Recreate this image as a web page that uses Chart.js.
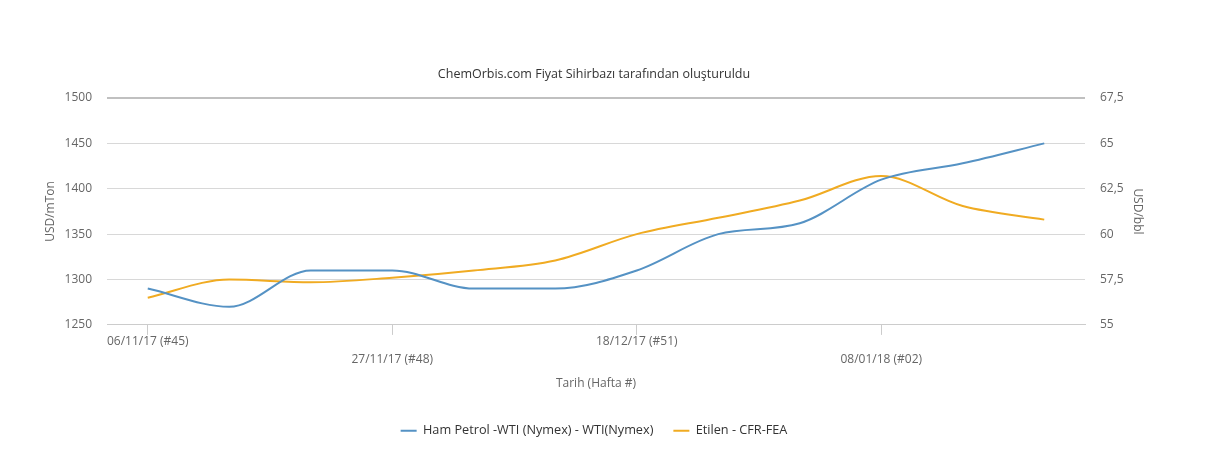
<!DOCTYPE html>
<html>
<head>
<meta charset="utf-8">
<script src="https://cdn.jsdelivr.net/npm/chart.js@4.4.1/dist/chart.umd.min.js"></script>
<style>
    html, body { margin: 0; padding: 0; background: #ffffff; }
    #wrap { width: 1213px; height: 468px; }
</style>
</head>
<body>
<div id="wrap"><canvas id="priceChart" width="1213" height="468"></canvas></div>
<script>
// Weekly categories (date + week number)
const categories = [
    '06/11/17 (#45)', '13/11/17 (#46)', '20/11/17 (#47)', '27/11/17 (#48)',
    '04/12/17 (#49)', '11/12/17 (#50)', '18/12/17 (#51)', '25/12/17 (#52)',
    '01/01/18 (#01)', '08/01/18 (#02)', '15/01/18 (#03)', '22/01/18 (#04)'
];

// Ham Petrol WTI, USD/bbl (right axis)
const wtiValues = [57, 56, 58, 58, 57, 57, 58, 60, 60.6, 63, 63.9, 65];

// Etilen CFR-FEA, USD/mTon (left axis)
const etilenValues = [1280, 1300, 1297, 1302, 1310, 1321, 1350, 1368, 1387, 1414, 1381, 1366];

const leftTicks = [1250, 1300, 1350, 1400, 1450, 1500];
const rightTicks = [55, 57.5, 60, 62.5, 65, 67.5];

const fontFamily = '"Open Sans", "DejaVu Sans", sans-serif';

document.addEventListener('DOMContentLoaded', function() {
    const ctx = document.getElementById('priceChart').getContext('2d');
    new Chart(ctx, {
        type: 'line',
        data: {
            labels: categories,
            datasets: [{
                label: 'Ham Petrol -WTI (Nymex) - WTI(Nymex)',
                data: wtiValues,
                yAxisID: 'yRight',
                borderColor: '#5592c4',
                backgroundColor: '#5592c4',
                borderWidth: 2,
                pointRadius: 0,
                cubicInterpolationMode: 'monotone'
            }, {
                label: 'Etilen - CFR-FEA',
                data: etilenValues,
                yAxisID: 'yLeft',
                borderColor: '#f0ab22',
                backgroundColor: '#f0ab22',
                borderWidth: 2,
                pointRadius: 0,
                cubicInterpolationMode: 'monotone'
            }]
        },
        options: {
            responsive: false,
            animation: false,
            devicePixelRatio: 1,
            layout: {
                padding: { left: 43, right: 68, top: 0, bottom: 21 }
            },
            plugins: {
                title: {
                    display: true,
                    text: 'ChemOrbis.com Fiyat Sihirbazı tarafından oluşturuldu',
                    color: '#333333',
                    font: { family: fontFamily, size: 12.5, weight: 'normal' },
                    padding: { top: 67, bottom: 16 }
                },
                legend: {
                    position: 'bottom',
                    labels: {
                        usePointStyle: true,
                        pointStyle: 'line',
                        pointStyleWidth: 16,
                        color: '#333333',
                        font: { family: fontFamily, size: 12.7 },
                        padding: 20
                    }
                },
                tooltip: { enabled: false }
            },
            scales: {
                x: {
                    offset: true,
                    grid: {
                        offset: false,
                        drawOnChartArea: false,
                        drawTicks: true,
                        tickLength: 10,
                        color: function(c) { return c.index % 3 === 0 ? '#cccccc' : 'rgba(0,0,0,0)'; }
                    },
                    border: { color: '#cccccc' },
                    ticks: {
                        autoSkip: false,
                        maxRotation: 0,
                        minRotation: 0,
                        padding: -2,
                        color: '#666666',
                        font: { family: fontFamily, size: 12, lineHeight: '18px' },
                        callback: function(value, index) {
                            if (index % 3 !== 0) return '';
                            const label = categories[index];
                            return index % 6 === 0 ? [label] : ['', label];
                        }
                    },
                    title: {
                        display: true,
                        text: 'Tarih (Hafta #)',
                        color: '#666666',
                        font: { family: fontFamily, size: 12 },
                        padding: { top: 9, bottom: 14 }
                    }
                },
                yLeft: {
                    position: 'left',
                    min: leftTicks[0],
                    max: leftTicks[leftTicks.length - 1],
                    afterBuildTicks: function(scale) {
                        scale.ticks = leftTicks.map(v => ({ value: v }));
                    },
                    afterFit: function(scale) { scale.width = 64; },
                    grid: {
                        drawTicks: false,
                        color: function(c) { return c.index === leftTicks.length - 1 ? '#c0c0c0' : '#d8d8d8'; },
                        lineWidth: function(c) { return c.index === leftTicks.length - 1 ? 2 : 1; }
                    },
                    border: { display: false },
                    ticks: {
                        padding: 15,
                        color: '#666666',
                        font: { family: fontFamily, size: 12 },
                        callback: function(value) { return String(value); }
                    },
                    title: {
                        display: true,
                        text: 'USD/mTon',
                        color: '#666666',
                        font: { family: fontFamily, size: 12 },
                        padding: 0
                    }
                },
                yRight: {
                    position: 'right',
                    min: rightTicks[0],
                    max: rightTicks[rightTicks.length - 1],
                    afterBuildTicks: function(scale) {
                        scale.ticks = rightTicks.map(v => ({ value: v }));
                    },
                    afterFit: function(scale) { scale.width = 60; },
                    grid: { drawOnChartArea: false, drawTicks: false },
                    border: { display: false },
                    ticks: {
                        padding: 15,
                        color: '#666666',
                        font: { family: fontFamily, size: 12 },
                        callback: function(value) { return String(value).replace('.', ','); }
                    },
                    title: {
                        display: true,
                        text: 'USD/bbl',
                        color: '#666666',
                        font: { family: fontFamily, size: 12 },
                        padding: 0
                    }
                }
            }
        }
    });
});
</script>
</body>
</html>
